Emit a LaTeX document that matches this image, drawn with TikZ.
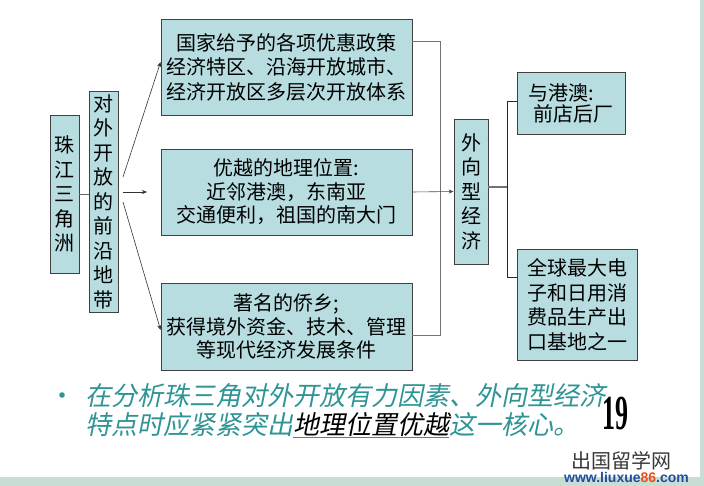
\documentclass[tikz,border=0pt]{standalone}
\usepackage{fontspec}
\usetikzlibrary{arrows.meta,calc}
\newfontfamily\cjk{Noto Sans CJK SC}
\newfontfamily\cjkit[FakeSlant=0.2]{Noto Sans CJK SC}
\newfontfamily\numfont{Liberation Serif}
\newfontfamily\webfont{Liberation Sans}
\definecolor{boxfill}{HTML}{B7DDE0}
\definecolor{boxline}{HTML}{404040}
\definecolor{bandcol}{HTML}{C9DDD5}
\definecolor{tealtext}{HTML}{2E9494}
\definecolor{webblue}{HTML}{1F4E9C}
\definecolor{weborange}{HTML}{E8501C}
\tikzset{
  box/.style={draw=boxline, fill=boxfill, line width=0.8pt, inner sep=0pt,
    align=center, font=\cjk\fontsize{20}{24.5}\selectfont},
  arr/.style={draw=black!80, line width=0.6pt, -{Stealth[length=5pt,width=4pt]}},
  conn/.style={draw=black!55, line width=1pt},
  brk/.style={draw=black!85, line width=0.8pt}
}
\begin{document}
\begin{tikzpicture}[x=1pt,y=-1pt]
\useasboundingbox (0,0) rectangle (704,486);
\fill[white] (0,0) rectangle (704,486);
\fill[bandcol] (0,477) rectangle (704,486);
\fill[bandcol] (700,0) rectangle (704,486);

% boxes
\node[box, minimum width=29pt, minimum height=158pt] (zj) at (64.5,194) {珠\\江\\三\\角\\洲};
\node[box, minimum width=29pt, minimum height=221pt] (qy) at (103.5,201.5) {对\\外\\开\\放\\的\\前\\沿\\地\\带};
\node[box, minimum width=251pt, minimum height=96pt] (b1) at (286.5,67)
  {国家给予的各项优惠政策\\经济特区、沿海开放城市、\\经济开放区多层次开放体系};
\node[box, minimum width=251pt, minimum height=86pt, font=\cjk\fontsize{20}{23.5}\selectfont] (b2) at (286.5,192)
  {优越的地理位置:\\近邻港澳，东南亚\\交通便利，祖国的南大门};
\node[box, minimum width=251pt, minimum height=87pt, font=\cjk\fontsize{20}{23.5}\selectfont] (b3) at (286.5,326.5)
  {著名的侨乡;\\获得境外资金、技术、管理\\等现代经济发展条件};
\node[box, minimum width=34pt, minimum height=145pt] (wx) at (471,191.5) {外\\向\\型\\经\\济};
\node[box, minimum width=108pt, minimum height=62pt, align=left, font=\cjk\fontsize{20}{21}\selectfont] (r1) at (571,103)
  {与港澳:\hspace*{8pt}\\\hspace*{5pt}前店后厂};
\node[box, minimum width=120pt, minimum height=111pt] (r2) at (577,304.5)
  {全球最大电\\子和日用消\\费品生产出\\口基地之一};

% left connectors
\draw[line width=0.8pt, draw=black!60] (zj.east) -- (zj.east -| qy.west);
\coordinate (s1) at (123,177);
\coordinate (s2) at (123,192);
\coordinate (s3) at (123,202);
\coordinate (e2) at (147,192);
\draw[arr] (s1) -- ($(b1.west)+(0,-5)$);
\draw[arr] (s2) -- (e2);
\draw[arr] (s3) -- ($(b3.west)+(0,3.5)$);

% right collector
\coordinate (t1) at ($(b1.north east)+(0,23)$);
\coordinate (t3) at ($(b3.east)+(0,8.5)$);
\draw[conn] (t1) -- ++(28,0) coordinate (vt) -- (vt |- t3) -- (t3);
\draw[arr, draw=black!70] (b2.east) -- (wx.west);

% bracket to right boxes
\coordinate (jn) at (507,187);
\draw[conn, line width=1.3pt] (wx.east |- jn) -- (jn);
\draw[brk] ($(r1.west)+(0,-2)$) -| (jn);
\draw[brk] ($(r2.north west)+(0,29)$) -| (jn);

% bullet text
\fill[tealtext] (62,395) circle (2.8pt);
\node[anchor=base west, inner sep=0pt, text=tealtext, font=\cjkit\fontsize{26}{29}\selectfont] (bl1) at (85,405)
  {在分析珠三角对外开放有力因素、外向型经济};
\node[anchor=base west, inner sep=0pt, text=tealtext, font=\cjkit\fontsize{26}{29}\selectfont] (bl2) at (85,434)
  {特点时应紧紧突出\underline{\textcolor{black}{地理位置优越}}这一核心。};

% page number
\node[inner sep=0pt, font=\numfont\bfseries\fontsize{49}{49}\selectfont] (pg) at (615,413.5)
  {\scalebox{0.53}[1]{19}};

% watermark
\node[anchor=base, inner sep=0pt, text=black!78, font=\cjk\fontsize{20}{20}\selectfont] (wm1) at (621.5,468) {出国留学网};
\node[anchor=base, inner sep=0pt, text=webblue, font=\webfont\bfseries\fontsize{14}{14}\selectfont] (wm2) at (626.5,482)
  {www.liuxue\textcolor{weborange}{86}.com};
\end{tikzpicture}
\end{document}
